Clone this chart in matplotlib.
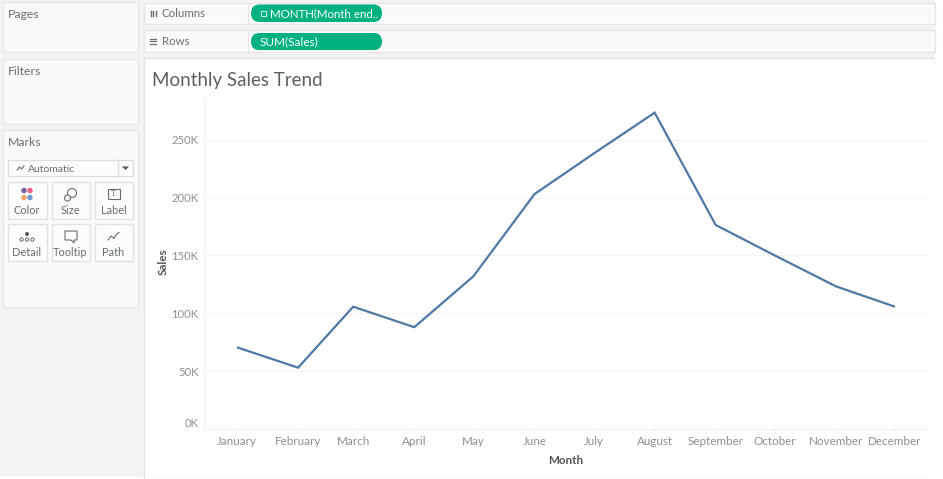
import matplotlib
matplotlib.use("Agg")
import matplotlib.pyplot as plt
from matplotlib.patches import Rectangle, FancyBboxPatch, Circle, Polygon

plt.rcParams['font.family'] = ['Lato', 'DejaVu Sans']

months = ["January", "February", "March", "April", "May", "June", "July",
          "August", "September", "October", "November", "December"]
month_days = [1, 32, 60, 91, 121, 152, 182, 213, 244, 274, 305, 335]
sales = [70600, 53000, 105700, 88000, 132000, 203000, 238000, 273400,
         176300, 150000, 123300, 105700]
y_ticks = [0, 50000, 100000, 150000, 200000, 250000]
y_labels = ["0K", "50K", "100K", "150K", "200K", "250K"]

W, H = 943, 479
fig = plt.figure(figsize=(W / 100, H / 100), dpi=100, facecolor="white")

# window chrome, in pixels
ui = fig.add_axes([0, 0, 1, 1])
ui.set_xlim(0, W)
ui.set_ylim(H, 0)
ui.axis("off")

grey_text = "#666e73"


def box(x0, y0, x1, y1, fc="#fafafa", ec="#e6e6e6", lw=1.0):
    ui.add_patch(Rectangle((x0, y0), x1 - x0, y1 - y0, fc=fc, ec=ec, lw=lw))


def pill(x0, y0, x1, y1):
    r = (y1 - y0) / 2
    ui.add_patch(FancyBboxPatch((x0 + r, y0 + r), x1 - x0 - 2 * r, 0.01,
                                boxstyle="round,pad=%f,rounding_size=%f" % (r, r),
                                fc="#00b180", ec="none"))


def label(x, y, s, size=8.8, color=grey_text, **kw):
    ui.text(x, y, s, fontsize=size, color=color, va="baseline", **kw)


box(0, 0, 935, 477, fc="#f3f3f3", ec="none")
box(144, 58, 935, 479, fc="white", ec="#e4e4e4")
box(935, 0, 943, 479, fc="white", ec="none")

for y0, y1, name in [(2, 52, "Pages"), (59, 124, "Filters"), (130, 307, "Marks")]:
    box(3, y0, 138, y1)
    label(8, y0 + 16, name)

# shelves
for y0, y1, name in [(3, 24, "Columns"), (30, 52, "Rows")]:
    box(144, y0, 935, y1)
    ui.plot([248, 248], [y0, y1], color="#e6e6e6", lw=1)
    label(162, (y0 + y1) / 2 + 3.5, name, size=8.3)
for x in [150.5, 153, 155.5]:
    ui.plot([x, x], [10.5, 16], color=grey_text, lw=1)
for y in [38.5, 41, 43.5]:
    ui.plot([149.5, 156], [y, y], color=grey_text, lw=0.9)
pill(251, 4.5, 382, 22)
pill(251, 33, 382, 50)
ui.add_patch(Rectangle((260.5, 11), 5, 5, fc="none", ec="#d5f2e8", lw=0.7))
label(270, 17.5, "MONTH(Month end..", size=8.3, color="white")
label(260, 45.5, "SUM(Sales)", size=8.5, color="white")

# marks card
box(8, 160, 133, 176, fc="#fcfcfc", ec="#dedede")
ui.plot([118, 118], [160, 176], color="#dedede", lw=1)
ui.add_patch(Polygon([[122, 166.5], [129, 166.5], [125.5, 170]], fc="#555555", ec="none"))
ui.plot([17, 19.5, 21.5, 24], [170, 167, 169, 166], color=grey_text, lw=0.8)
label(28, 171.5, "Automatic", size=7.5)

cards = [(8, 47, 182, 219, "Color"), (52, 90, 182, 219, "Size"), (95, 133, 182, 219, "Label"),
         (8, 47, 224, 261, "Detail"), (52, 90, 224, 261, "Tooltip"), (95, 133, 224, 261, "Path")]
for x0, x1, y0, y1, name in cards:
    box(x0, y0, x1, y1, fc="#fcfcfc", ec="#e2e2e2")
    label((x0 + x1) / 2 - 0.5, y1 - 4.5, name, size=7.9, ha="center")

# card icons
for cx, cy, c in [(24, 190.5, "#7b5c9e"), (30, 190.5, "#e8637f"), (24, 197.5, "#f2a265"), (30, 197.5, "#6c9bd2")]:
    ui.add_patch(Circle((cx, cy), 2.7, fc=c, ec="none"))
ui.add_patch(Circle((72, 193), 4.5, fc="none", ec=grey_text, lw=0.8))
ui.add_patch(Circle((67.5, 198), 3, fc="#fcfcfc", ec=grey_text, lw=0.8))
ui.add_patch(Rectangle((107.5, 189), 12, 10, fc="none", ec=grey_text, lw=0.8))
ui.text(113.5, 194, "T", fontsize=6, family="Liberation Serif", color=grey_text, ha="center", va="center")
ui.add_patch(Circle((27, 234), 2, fc="#555555", ec="none"))
for cx in [21.5, 27, 32.5]:
    ui.add_patch(Circle((cx, 239.5), 1.7, fc="none", ec=grey_text, lw=0.7))
ui.add_patch(Polygon([[65, 231], [77, 231], [77, 240], [74, 240], [74, 243], [71, 240], [65, 240]],
                     closed=True, fc="none", ec=grey_text, lw=0.8))
ui.plot([108, 111, 114, 116, 119], [240, 236, 238.5, 235, 232.5], color=grey_text, lw=0.8)

# chart
ax_left, ax_right, ax_top, ax_bottom = 204, 928, 97, 429
ax = fig.add_axes([ax_left / W, 1 - ax_bottom / H, (ax_right - ax_left) / W, (ax_bottom - ax_top) / H])
ax.patch.set_alpha(0)
px_per_day = 1.97
ax.set_xlim(1 - 33 / px_per_day, 1 + (ax_right - 237) / px_per_day)
ax.set_ylim(0, (ax_bottom - ax_top) / 57.85 * 50000)

ax.plot(month_days, sales, color="#4e79a7", lw=1.6, solid_joinstyle="miter", solid_capstyle="butt")

ax.set_xticks(month_days)
ax.set_xticklabels(months)
ax.set_yticks(y_ticks)
ax.set_yticklabels(y_labels)
ax.grid(axis="y", color="#f3f3f3", lw=0.9)
ax.set_axisbelow(True)
ax.tick_params(axis="x", length=2.5, color="#eeeeee", width=0.8, labelcolor="#8f8f8f", labelsize=8.4, pad=8.8)
ax.tick_params(axis="y", length=0, labelcolor="#8f8f8f", labelsize=8.1, pad=4)
for t in ax.get_xticklabels():
    t.set_verticalalignment("baseline")
ax.get_yticklabels()[0].set_verticalalignment("bottom")
for t in ax.get_yticklabels()[1:]:
    t.set_verticalalignment("center_baseline")

for side in ["top", "right"]:
    ax.spines[side].set_visible(False)
for side in ["left", "bottom"]:
    ax.spines[side].set_color("#f2f2f2")
    ax.spines[side].set_linewidth(0.8)

label(566, 463.5, "Month", size=8.4, color="#555555", ha="center", fontweight="bold")
ui.text(163.5, 262, "Sales", fontsize=8.4, color="#555555", rotation=90, ha="center", va="center", fontweight="bold")
label(152, 85.5, "Monthly Sales Trend", size=13.5, color="#5a6066")

fig.savefig("out.png", dpi=100)
